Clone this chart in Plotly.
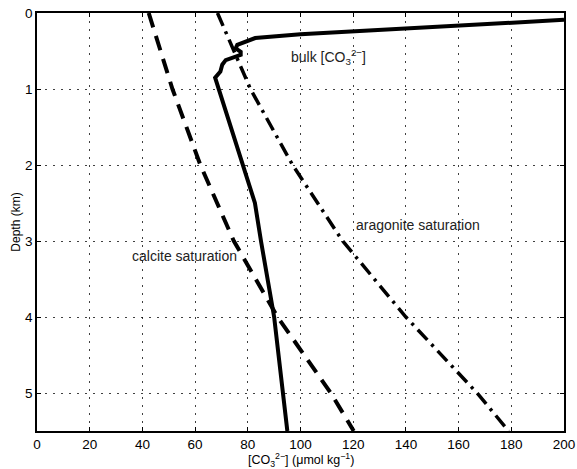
import plotly.graph_objects as go

# Data
calcite_depth = [0, 1, 2, 3, 4, 5, 5.5]
calcite_co3 = [42.4, 51.4, 62.0, 74.7, 91.3, 111.5, 120.2]

aragonite_depth = [0, 1, 2, 3, 4, 5, 5.5]
aragonite_co3 = [68.5, 81.0, 97.0, 116.0, 140.0, 167.0, 179.0]

bulk_depth = [0.09, 0.215, 0.28, 0.33, 0.42, 0.465, 0.51, 0.55, 0.62, 0.68, 0.77, 0.85, 2.5, 3.0, 4.0, 5.5]
bulk_co3 = [200, 130, 100, 82.8, 76.0, 75.4, 77.3, 77.3, 71.6, 70.3, 69.6, 67.6, 82.7, 85.0, 90.0, 95.0]

x_ticks = [0, 20, 40, 60, 80, 100, 120, 140, 160, 180, 200]
y_ticks = [0, 1, 2, 3, 4, 5]

labels = ["bulk [CO<sub>3</sub><sup>2−</sup>]", "aragonite saturation", "calcite saturation"]
label_x = [95.5, 120.3, 35.2]
label_y = [0.58, 2.79, 3.2]

FONT = "Liberation Sans, Arial, sans-serif"

fig = go.Figure()
fig.add_trace(go.Scatter(x=calcite_co3, y=calcite_depth, mode="lines",
                         line=dict(color="black", width=4, dash="15px,9px"),
                         showlegend=False, hoverinfo="skip"))
fig.add_trace(go.Scatter(x=aragonite_co3, y=aragonite_depth, mode="lines",
                         line=dict(color="black", width=3.5, dash="14px,6px,3px,6px"),
                         showlegend=False, hoverinfo="skip"))
fig.add_trace(go.Scatter(x=bulk_co3, y=bulk_depth, mode="lines",
                         line=dict(color="black", width=4),
                         showlegend=False, hoverinfo="skip"))

for t, xv, yv in zip(labels, label_x, label_y):
    fig.add_annotation(x=xv, y=yv, text=t, showarrow=False, xanchor="left",
                       yanchor="middle", font=dict(family=FONT, size=14, color="#222"))

# x-axis title placed explicitly below the tick labels
fig.add_annotation(xref="paper", yref="paper", x=0.5, y=-0.07, xanchor="center",
                   yanchor="middle", showarrow=False,
                   text="[CO<sub>3</sub><sup>2−</sup>] (μmol kg<sup>−1</sup>)",
                   font=dict(family=FONT, size=12.5, color="black"))

axis_common = dict(
    showline=True, linecolor="black", linewidth=1.5, mirror="ticks",
    ticks="inside", ticklen=4, tickcolor="black", automargin=False,
    showgrid=True, gridcolor="rgba(0,0,0,0.75)", gridwidth=1, griddash="1.5px,6.5px",
    zeroline=False, tickfont=dict(family=FONT, size=13.5, color="black"),
)

fig.update_xaxes(range=[0, 200], tickvals=x_ticks, ticklabelstandoff=0, **axis_common)
fig.update_yaxes(range=[5.5, 0], tickvals=y_ticks, **axis_common,
                 title=dict(text="Depth (km)", font=dict(family=FONT, size=12, color="black"),
                            standoff=2))

fig.update_layout(width=577, height=469, margin=dict(l=37, r=13, t=13, b=38),
                  plot_bgcolor="white", paper_bgcolor="white")

fig.write_html("out.html")
